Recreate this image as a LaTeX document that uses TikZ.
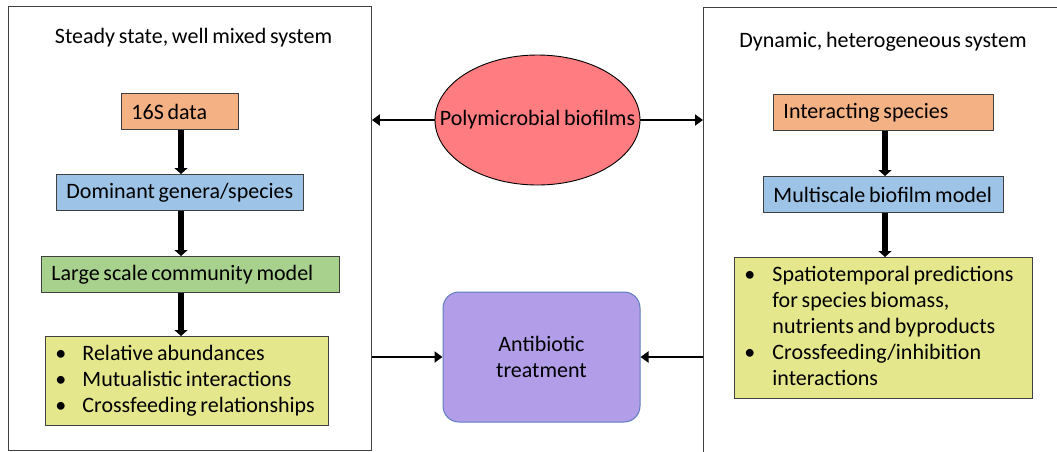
\documentclass[tikz,border=0pt]{standalone}
\usepackage{fontspec}
\setmainfont{Carlito}[WordSpace=0.75]
\usetikzlibrary{arrows.meta,shapes.geometric,calc}
\definecolor{corange}{HTML}{F4B183}
\definecolor{cblue}{HTML}{9DC3E6}
\definecolor{cgreen}{HTML}{A9D18E}
\definecolor{cyellow}{HTML}{E5E78C}
\definecolor{cpink}{HTML}{FF7C80}
\definecolor{cpurple}{HTML}{B29DE8}
\definecolor{cpurpleb}{HTML}{5E7CC0}
\definecolor{cedge}{HTML}{404040}
\newcommand{\natsp}{\spaceskip=0pt\xspaceskip=0pt\relax}
\tikzset{
  txt/.style={font=\fontsize{22}{26}\selectfont, execute at begin node=\natsp},
  stepbox/.style={txt, draw=cedge, line width=0.9pt, inner xsep=10pt, inner ysep=0pt, align=left, minimum height=36pt, anchor=north west},
  listbox/.style={txt, draw=cedge, line width=0.9pt, fill=cyellow, inner ysep=0pt, inner xsep=10pt, align=left, anchor=north west},
  frame/.style={draw=cedge, line width=0.9pt},
  varrow/.style={line width=5.5pt, -{Triangle[width=13pt,length=6pt]}, shorten >=0pt},
  harrow/.style={line width=2.6pt, -{Triangle[width=11pt,length=8pt]}},
}
\begin{document}
\begin{tikzpicture}[x=1pt,y=-1pt]
\useasboundingbox (0,0) rectangle (1057,451);
% left frame
\node[frame, minimum width=363pt, minimum height=444pt, anchor=north west, inner sep=0pt] (leftbox) at (8,6) {};
\node[txt] (ltitle) at (193.5,38) {Steady state, well mixed system};
% right frame (cut off by the page edges)
\coordinate (rbtl) at (703,7);
\draw[frame] (1060,7) -- (rbtl) -- (703,453);
\node[txt] (rtitle) at (883,42) {Dynamic, heterogeneous system};
% left column
\node[stepbox, fill=corange, text width=97pt] (s16) at (121,93) {\natsp\mbox{16S data}};
\node[stepbox, fill=cblue, text width=227pt] (dom) at (56,174) {\natsp\mbox{Dominant genera/species}};
\node[stepbox, fill=cgreen, text width=278pt] (large) at (41,256) {\natsp\mbox{Large scale community model}};
\node[listbox, minimum width=283pt, minimum height=89pt, text width=263pt] (lres) at (45,336)
  {\natsp\begin{tabular}{@{}p{27pt}@{}l@{}}\textbullet & Relative abundances\\ \textbullet & Mutualistic interactions\\ \textbullet & Crossfeeding relationships\end{tabular}};
% right column
\node[stepbox, fill=corange, text width=200pt] (inter) at (773,94) {\natsp\mbox{Interacting species}};
\node[stepbox, fill=cblue, text width=220pt] (multi) at (763,176) {\natsp\mbox{Multiscale biofilm model}};
\node[listbox, minimum width=298pt, minimum height=141pt, text width=278pt] (rres) at (734,257)
  {\natsp\begin{tabular}{@{}p{28pt}@{}l@{}}\textbullet & Spatiotemporal predictions\\ & for species biomass,\\ & nutrients and byproducts\\ \textbullet & Crossfeeding/inhibition\\ & interactions\end{tabular}};
% middle
\node[ellipse, draw=black, line width=0.9pt, fill=cpink, minimum width=205pt, minimum height=130pt, inner sep=0pt, txt] (poly) at (537.5,120) {\makebox[0pt]{Polymicrobial biofilms}};
\node[draw=cpurpleb, line width=1pt, fill=cpurple, rounded corners=16pt, minimum width=197pt, minimum height=130pt, txt, align=center] (anti) at (541.5,357) {\natsp Antibiotic\\treatment};
% vertical arrows
\draw[varrow] (s16.south -| 181,0) -- (dom.north -| 181,0);
\draw[varrow] (dom.south -| 181,0) -- (large.north -| 181,0);
\draw[varrow] (large.south -| 181,0) -- (lres.north -| 181,0);
\draw[varrow] (inter.south -| 885,0) -- (multi.north -| 885,0);
\draw[varrow] (multi.south -| 885,0) -- (rres.north -| 885,0);
% horizontal arrows
\draw[harrow] (poly.west) -- (poly.west -| leftbox.east);
\draw[harrow] (poly.east) -- (poly.east -| rbtl);
\draw[harrow] (anti.west -| leftbox.east) -- (anti.west);
\draw[harrow] (anti.east -| rbtl) -- (anti.east);
\end{tikzpicture}
\end{document}
